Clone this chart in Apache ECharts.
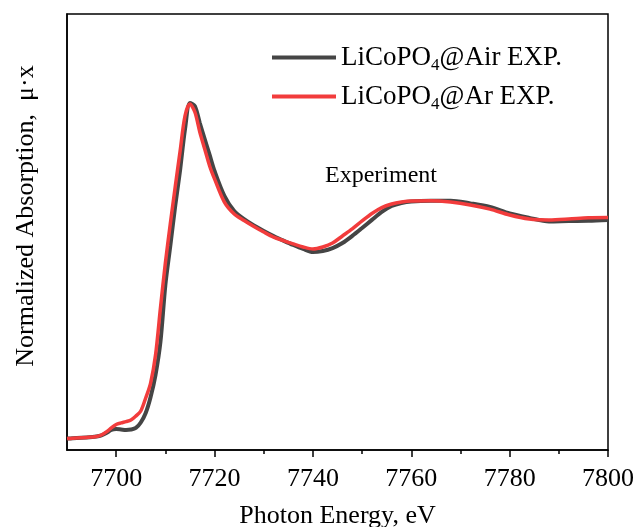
<!DOCTYPE html>
<html>
<head>
<meta charset="utf-8">
<script src="https://cdn.jsdelivr.net/npm/echarts@6/dist/echarts.min.js"></script>
<style>
html,body{margin:0;padding:0;background:#fff;}
#chart{width:637px;height:527px;}
</style>
</head>
<body>
<div id="chart"></div>
<script>
// Photon energy grid (eV)
var energy = [7690,7692,7694,7696,7697,7698,7699,7700,7701,7702,7703,7704,7705,7706,7707,7708,7709,7710,7711,7712,7713,7714,7715,7716,7717,7718,7719,7720,7722,7724,7726,7728,7730,7732,7734,7736,7738,7740,7742,7744,7746,7748,7750,7752,7754,7756,7758,7760,7764,7768,7772,7776,7780,7784,7788,7792,7796,7800];
// LiCoPO4@Air EXP. (normalized absorption)
var airValues = [0.002,0.005,0.007,0.011,0.016,0.027,0.041,0.045,0.043,0.041,0.043,0.050,0.075,0.118,0.191,0.291,0.441,0.699,0.876,1.058,1.222,1.408,1.526,1.512,1.435,1.362,1.290,1.217,1.104,1.035,0.999,0.970,0.945,0.922,0.901,0.881,0.863,0.849,0.854,0.867,0.890,0.922,0.958,0.995,1.031,1.058,1.072,1.079,1.082,1.082,1.070,1.054,1.024,1.004,0.988,0.990,0.991,0.995];
// LiCoPO4@Ar EXP. (normalized absorption)
var arValues = [0.002,0.005,0.007,0.011,0.018,0.032,0.050,0.066,0.073,0.079,0.086,0.104,0.127,0.186,0.254,0.381,0.595,0.799,0.976,1.144,1.308,1.467,1.521,1.485,1.394,1.317,1.240,1.181,1.076,1.022,0.992,0.965,0.940,0.917,0.901,0.886,0.872,0.863,0.872,0.890,0.922,0.954,0.990,1.024,1.051,1.067,1.076,1.081,1.082,1.076,1.063,1.044,1.017,0.999,0.995,0.999,1.005,1.006];
// axis ticks
var xMajorTicks = [7700,7720,7740,7760,7780,7800];
var xMinorTicks = [7710,7730,7750,7770,7790];
var seriesNames = ['LiCoPO4@Air EXP.','LiCoPO4@Ar EXP.'];
var annotationText = 'Experiment';
var xTitle = 'Photon Energy, eV';
var yTitle = 'Normalized Absorption,  \u03bc\u00b7x';

function pairs(xs, ys){ return xs.map(function(x,i){ return [x, ys[i]]; }); }

var FONT = '"Liberation Serif","Times New Roman",serif';
function tickAxis(values, len){
  return {
    type:'value', min:7690, max:7800, position:'bottom',
    axisLine:{show:false,onZero:false},
    axisTick:{show:true,length:len,customValues:values,lineStyle:{color:'#000',width:1.5}},
    axisLabel:{show:false},
    splitLine:{show:false}
  };
}
var chart = echarts.init(document.getElementById('chart'), null, {renderer:'canvas'});
chart.setOption({
  animation:false,
  backgroundColor:'#fff',
  textStyle:{fontFamily:FONT,color:'#000'},
  grid:{left:67,right:29,top:14,bottom:77,containLabel:false,outerBoundsMode:'none',
    show:true,borderColor:'#000',borderWidth:1.5,backgroundColor:'transparent'},
  legend:{
    orient:'vertical', left:272, top:44, padding:0, itemWidth:64, itemHeight:4, itemGap:9,
    icon:'rect',
    data:seriesNames,
    formatter:function(name){
      var parts = name.split('4');
      return '{a|'+parts[0]+'}{s|4}{a|'+parts[1]+'}';
    },
    textStyle:{
      fontFamily:FONT,
      rich:{
        a:{fontFamily:FONT,fontSize:27,color:'#000'},
        s:{fontFamily:FONT,fontSize:17,color:'#000',padding:[16,0,0,0]}
      }
    }
  },
  graphic:[{
    type:'text', left:325, top:164,
    style:{text:annotationText, font:'24px "Liberation Serif", serif', fill:'#000'}
  }],
  xAxis:[{
    type:'value', min:7690, max:7800, interval:10,
    name:xTitle, nameLocation:'middle', nameGap:53,
    nameTextStyle:{fontFamily:FONT,fontSize:26,color:'#000'},
    axisLine:{show:true,onZero:false,lineStyle:{color:'#000',width:1.5}},
    axisTick:{show:false},
    axisLabel:{fontFamily:FONT,fontSize:26,color:'#000',margin:16,showMinLabel:false,
      formatter:function(v){ return xMajorTicks.indexOf(v) >= 0 ? String(v) : ''; }},
    splitLine:{show:false}
  }, tickAxis(xMajorTicks, 7), tickAxis(xMinorTicks, 4)],
  yAxis:{
    type:'value', min:-0.05, max:1.93,
    name:yTitle, nameLocation:'middle', nameGap:28,
    nameTextStyle:{fontFamily:FONT,fontSize:26,color:'#000',padding:[0,0,0,32]},
    axisLine:{show:true,onZero:false,lineStyle:{color:'#000',width:1.5}},
    axisTick:{show:false}, axisLabel:{show:false}, splitLine:{show:false}
  },
  series:[{
    name:seriesNames[0], type:'line', data:pairs(energy, airValues),
    smooth:0.3, symbol:'none', lineStyle:{color:'#454545',width:4}, itemStyle:{color:'#454545'}
  },{
    name:seriesNames[1], type:'line', data:pairs(energy, arValues),
    smooth:0.3, symbol:'none', lineStyle:{color:'#f23c3c',width:3.5}, itemStyle:{color:'#f23c3c'}
  }]
});
</script>
</body>
</html>
